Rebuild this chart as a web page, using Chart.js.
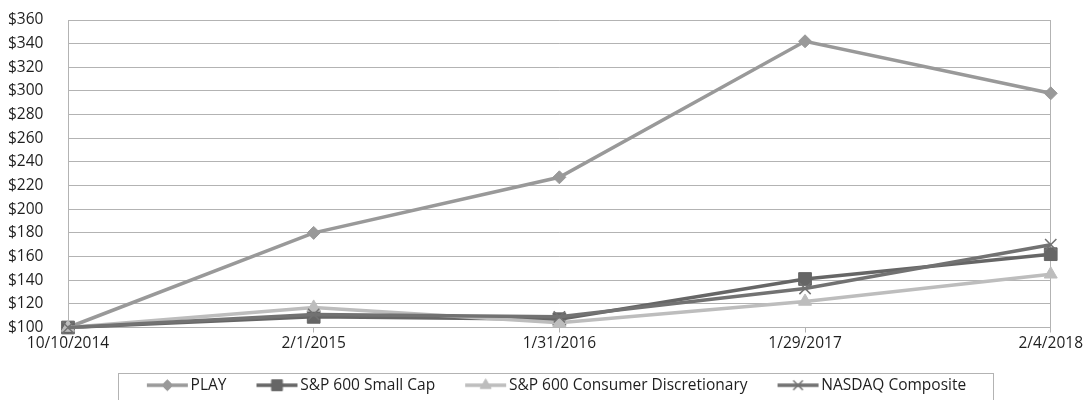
<!DOCTYPE html>
<html>
<head>
<meta charset="utf-8">
<script src="https://cdn.jsdelivr.net/npm/chart.js@4.4.1/dist/chart.umd.min.js"></script>
<style>
  html, body { margin: 0; padding: 0; background: #fff; }
  #wrap { width: 1085px; height: 400px; position: relative; }
</style>
</head>
<body>
<div id="wrap"><canvas id="perf-chart"></canvas></div>
<script>
// period end dates (x categories)
const dates = ['10/10/2014', '2/1/2015', '1/31/2016', '1/29/2017', '2/4/2018'];

// cumulative value of $100 invested
const playValues = [100, 180, 227, 342, 298];
const smallCapValues = [100, 109, 107, 141, 162];
const consumerValues = [100, 117, 104, 122, 145];
const nasdaqValues = [100, 111, 109, 133, 170];

const seriesNames = ['PLAY', 'S&P 600 Small Cap', 'S&P 600 Consumer Discretionary', 'NASDAQ Composite'];

// y axis ticks
const yMin = 100;
const yMax = 360;
const yStep = 20;

const FONT = "'Open Sans', sans-serif";
const FONT_SIZE = 15.5;
const GRID = '#b3b3b3';
const TEXT = '#1e1e1e';

const datasetDefs = [
    { label: seriesNames[0], data: playValues, color: '#999999', style: 'rectRot', radius: 6.5, order: 4 },
    { label: seriesNames[1], data: smallCapValues, color: '#666666', style: 'rect', radius: 9, order: 3 },
    { label: seriesNames[2], data: consumerValues, color: '#bdbdbd', style: 'triangle', radius: 7.5, order: 2 },
    { label: seriesNames[3], data: nasdaqValues, color: '#727272', style: 'crossRot', radius: 8, order: 1 }
];

// legend swatch: empty gap on the left, then line with the marker in the middle
const SW_BOX = 60;     // pointStyleWidth
const SW_GAP = 24;     // blank space before the line
const SW_EXTRA = 6;    // canvas overhang on each side so the line reaches the text
function makeSwatch(d) {
    const c = document.createElement('canvas');
    c.width = SW_BOX + SW_EXTRA * 2;
    c.height = 20;
    const g = c.getContext('2d');
    const x0 = SW_EXTRA + SW_GAP;
    const x1 = c.width - 1;
    g.strokeStyle = d.color;
    g.fillStyle = d.color;
    g.lineWidth = 3.5;
    g.beginPath();
    g.moveTo(x0, 10);
    g.lineTo(x1, 10);
    g.stroke();
    const bw = d.style === 'crossRot' ? 1.5 : 1;
    g.lineWidth = bw;
    Chart.helpers.drawPoint(g, { pointStyle: d.style, rotation: 0, borderWidth: bw, radius: d.radius * 0.85 }, (x0 + x1) / 2, 10);
    return c;
}

// box around the legend, like the original
const legendBorder = {
    id: 'legendBorder',
    afterDraw(chart) {
        const legend = chart.legend;
        const boxes = legend && legend.legendHitBoxes;
        if (!boxes || !boxes.length) return;
        const ctx = chart.ctx;
        ctx.save();
        ctx.font = FONT_SIZE + 'px ' + FONT;
        let minX = Infinity, maxX = -Infinity, midY = 0;
        boxes.forEach((b, i) => {
            minX = Math.min(minX, b.left);
            const textEnd = b.left + SW_BOX + FONT_SIZE / 2 + ctx.measureText(seriesNames[i]).width;
            maxX = Math.max(maxX, textEnd);
            midY += b.top + b.height / 2;
        });
        midY /= boxes.length;
        ctx.strokeStyle = GRID;
        ctx.lineWidth = 1;
        const left = Math.round(minX + SW_GAP - 29) + 0.5;
        const right = Math.round(maxX + 27) + 0.5;
        const top = Math.round(midY - 12) + 0.5;
        ctx.strokeRect(left, top, right - left, 28);
        ctx.restore();
    }
};

const ctx = document.getElementById('perf-chart').getContext('2d');
const perfChart = new Chart(ctx, {
    type: 'line',
    data: {
        labels: dates,
        datasets: datasetDefs.map(d => ({
            label: d.label,
            data: d.data,
            borderColor: d.color,
            backgroundColor: d.color,
            borderWidth: 3.5,
            pointStyle: d.style,
            pointRadius: d.radius,
            pointHoverRadius: d.radius,
            pointBorderWidth: d.style === 'crossRot' ? 1.5 : 1,
            pointBackgroundColor: d.color,
            pointBorderColor: d.color,
            tension: 0,
            fill: false,
            clip: false,
            order: d.order
        }))
    },
    options: {
        responsive: true,
        maintainAspectRatio: false,
        animation: false,
        layout: { autoPadding: false, padding: { left: 8, right: 4, top: 20, bottom: -3 } },
        scales: {
            x: {
                type: 'category',
                offset: false,
                grid: {
                    color: c => (c.index === 0 || c.index === dates.length - 1) ? GRID : 'rgba(0,0,0,0)',
                    tickColor: GRID,
                    tickLength: 5
                },
                border: { color: GRID },
                ticks: {
                    color: TEXT,
                    font: { family: FONT, size: FONT_SIZE },
                    padding: 2,
                    maxRotation: 0,
                    autoSkip: false
                },
                afterFit: s => { s.height = 44; }
            },
            y: {
                min: yMin,
                max: yMax,
                grid: { color: GRID, drawTicks: false },
                border: { color: GRID },
                ticks: {
                    stepSize: yStep,
                    color: TEXT,
                    padding: 2,
                    crossAlign: 'far',
                    font: { family: FONT, size: FONT_SIZE },
                    callback: v => '$' + v
                },
                afterFit: s => { s.width = 60; }
            }
        },
        plugins: {
            tooltip: { enabled: false },
            legend: {
                position: 'bottom',
                labels: {
                    color: TEXT,
                    font: { family: FONT, size: FONT_SIZE },
                    usePointStyle: true,
                    pointStyleWidth: SW_BOX,
                    padding: 6,
                    generateLabels: chart => datasetDefs.map((d, i) => ({
                        text: d.label,
                        pointStyle: makeSwatch(d),
                        fillStyle: d.color,
                        strokeStyle: d.color,
                        lineWidth: 0,
                        hidden: false,
                        datasetIndex: i,
                        fontColor: TEXT
                    }))
                }
            }
        }
    },
    plugins: [legendBorder]
});
</script>
</body>
</html>
